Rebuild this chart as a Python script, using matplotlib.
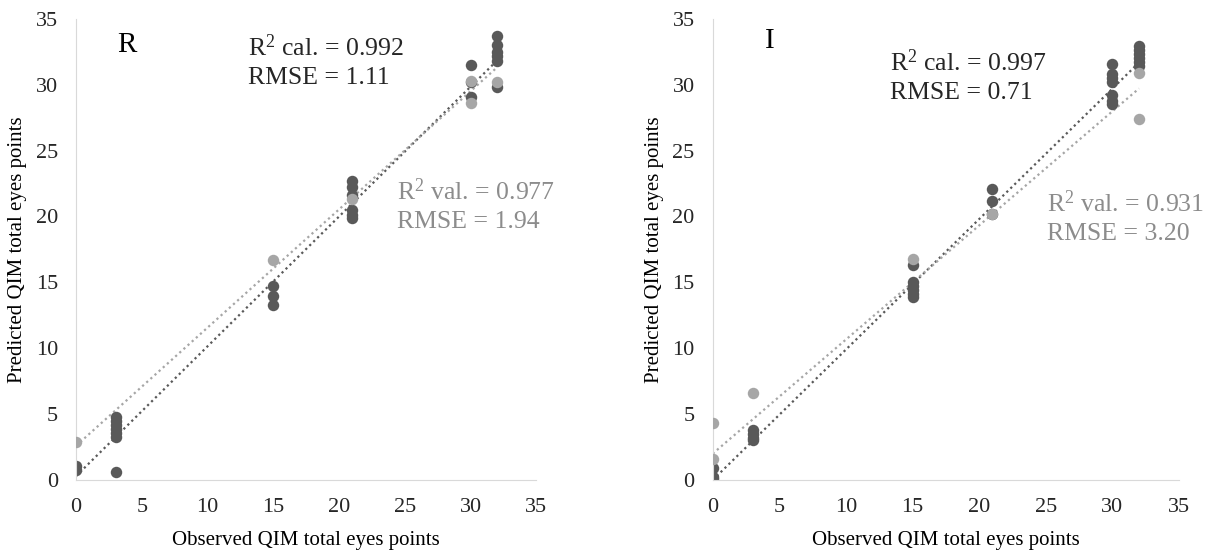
import numpy as np
import matplotlib.pyplot as plt

plt.rcParams['font.family'] = ['Liberation Serif', 'DejaVu Serif']
plt.rcParams['mathtext.fontset'] = 'custom'
plt.rcParams['mathtext.rm'] = 'Liberation Serif'
plt.rcParams['mathtext.it'] = 'Liberation Serif:italic'

# R panel
r_cal_x = [0, 0, 3, 3, 3, 3, 3, 3, 3, 15, 15, 15, 21, 21, 21, 21, 21, 21, 30, 30, 30, 32, 32, 32, 32, 32, 32]
r_cal_y = [1.1, 0.75, 4.8, 4.5, 4.2, 3.9, 3.6, 3.3, 0.6, 14.7, 14.0, 13.3, 22.7, 22.2, 21.6, 20.5, 20.1, 19.9,
           31.5, 30.2, 29.1, 33.7, 33.0, 32.5, 32.2, 31.8, 29.8]
r_val_x = [0, 15, 21, 30, 30, 32]
r_val_y = [2.9, 16.7, 21.3, 30.3, 28.6, 30.2]
r_cal_trend = (0.985, 0.3)   # slope, intercept
r_val_trend = (0.897, 2.6)

# I panel
i_cal_x = [0, 0, 0, 3, 3, 3, 3, 15, 15, 15, 15, 15, 15, 21, 21, 21, 30, 30, 30, 30, 30, 30, 30,
           32, 32, 32, 32, 32, 32]
i_cal_y = [0.9, 0.2, 0.1, 3.8, 3.5, 3.2, 3.0, 16.3, 15.0, 14.7, 14.4, 14.1, 13.9, 22.1, 21.2, 20.2,
           31.6, 30.8, 30.5, 30.2, 29.2, 28.8, 28.5, 32.9, 32.6, 32.3, 32.0, 31.7, 31.4]
i_val_x = [0, 0, 3, 15, 21, 32, 32]
i_val_y = [4.3, 1.6, 6.6, 16.8, 20.2, 30.9, 27.4]
i_cal_trend = (0.99, 0.0)
i_val_trend = (0.866, 2.0)

panels = [
    ('R', r_cal_x, r_cal_y, r_val_x, r_val_y, r_cal_trend, r_val_trend,
     ['R$^2$ cal. = 0.992', 'RMSE = 1.11'], ['R$^2$ val. = 0.977', 'RMSE = 1.94'],
     (13.1, 32.8), (24.4, 21.9), (3.1, 33.0)),
    ('I', i_cal_x, i_cal_y, i_val_x, i_val_y, i_cal_trend, i_val_trend,
     ['R$^2$ cal. = 0.997', 'RMSE = 0.71'], ['R$^2$ val. = 0.931', 'RMSE = 3.20'],
     (13.3, 31.7), (25.1, 21.0), (3.9, 33.3)),
]

dark = '#595959'
light = '#a6a6a6'

fig = plt.figure(figsize=(12.08, 5.53), dpi=100)
boxes = [[0.063, 0.132, 0.381, 0.834], [0.590, 0.132, 0.386, 0.834]]

for box, (lab, cx, cy, vx, vy, ct, vt, ctxt, vtxt, cpos, vpos, lpos) in zip(boxes, panels):
    ax = fig.add_axes(box)
    ax.scatter(vx, vy, s=68, color=light, zorder=3, linewidths=0)
    ax.scatter(cx, cy, s=68, color=dark, zorder=2, linewidths=0)
    xx = np.array([0, 32])
    ax.plot(xx, ct[0] * xx + ct[1], linestyle=(0, (1, 1.5)), color=dark, linewidth=1.6, zorder=1)
    ax.plot(xx, vt[0] * xx + vt[1], linestyle=(0, (1, 1.5)), color=light, linewidth=1.6, zorder=1)
    ax.set_xlim(0, 35)
    ax.set_ylim(0, 35)
    ax.set_xticks(range(0, 36, 5))
    ax.set_yticks(range(0, 36, 5))
    ax.tick_params(axis='x', length=0, labelsize=16, pad=13, labelcolor='#262626')
    ax.tick_params(axis='y', length=0, labelsize=16, pad=13, labelcolor='#262626')
    for s in ['top', 'right']:
        ax.spines[s].set_visible(False)
    for s in ['left', 'bottom']:
        ax.spines[s].set_color('#d9d9d9')
    ax.set_xlabel('Observed QIM total eyes points', fontsize=15, labelpad=10)
    ax.set_ylabel('Predicted QIM total eyes points', fontsize=15, labelpad=6)
    ax.text(lpos[0], lpos[1], lab, fontsize=21, va='center')
    ax.text(cpos[0], cpos[1], ctxt[0], fontsize=18.5, va='center', color='#262626')
    ax.text(cpos[0], cpos[1] - 2.3, ctxt[1], fontsize=18.5, va='center', color='#262626')
    ax.text(vpos[0], vpos[1], vtxt[0], fontsize=18.5, va='center', color='#8c8c8c')
    ax.text(vpos[0], vpos[1] - 2.3, vtxt[1], fontsize=18.5, va='center', color='#8c8c8c')

fig.savefig('out.png', dpi=100)
